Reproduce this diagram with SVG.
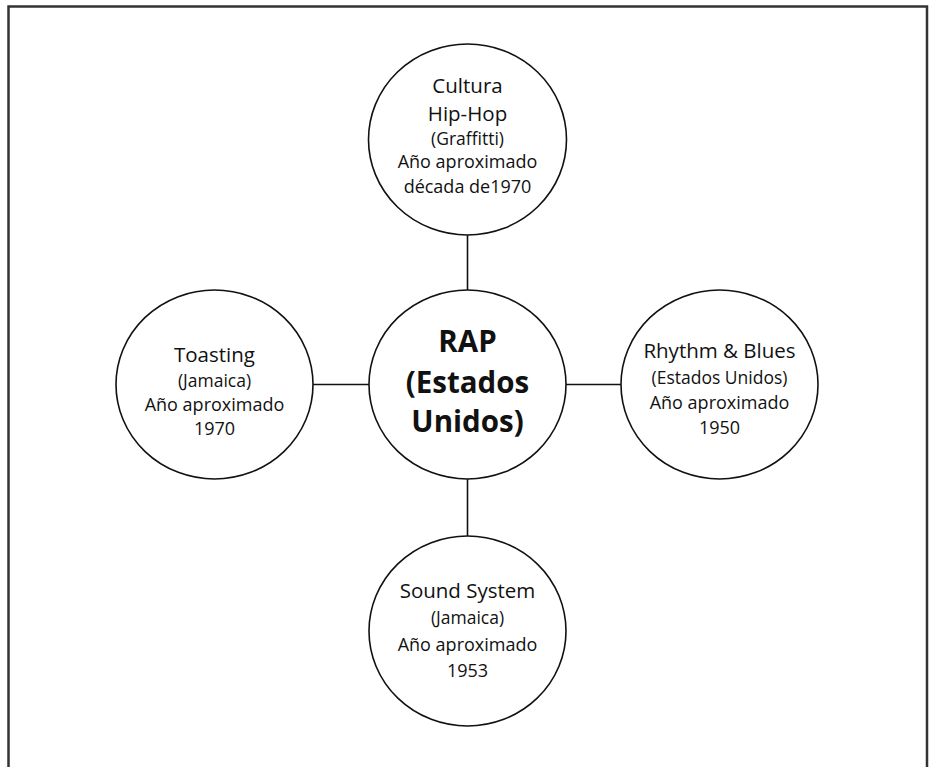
<svg xmlns="http://www.w3.org/2000/svg" width="931" height="767" viewBox="0 0 931 767">
<style>
.frame{fill:none;stroke:#333;stroke-width:2.5}
.node{fill:#fff;stroke:#111;stroke-width:1.6}
.link{stroke:#111;stroke-width:1.6;fill:none}
text{font-family:"Open Sans","Noto Sans",sans-serif;fill:#111;text-anchor:middle}
.t{font-size:20.5px}
.s{font-size:17.5px}
.y{font-size:18px}
.c{font-size:29.5px;font-weight:bold}
</style>
<rect width="931" height="767" fill="#fff"/>
<path class="frame" d="M8.5,780 V6.5 H927 V780"/>
<g id="connectors">
<line class="link" x1="467.5" y1="235" x2="467.5" y2="290"/>
<line class="link" x1="467.5" y1="479" x2="467.5" y2="536"/>
<line class="link" x1="313" y1="384.5" x2="369" y2="384.5"/>
<line class="link" x1="566" y1="384.5" x2="621" y2="384.5"/>
</g>
<g id="node-hiphop">
<ellipse class="node" cx="467.5" cy="139.5" rx="99" ry="95.5"/>
<text class="t" x="467.5" y="93">Cultura</text>
<text class="t" x="467.5" y="121">Hip-Hop</text>
<text class="s" x="467.5" y="145">(Graffitti)</text>
<text class="y" x="467.5" y="168">Año aproximado</text>
<text class="y" x="467.5" y="193">década de1970</text>
</g>
<g id="node-rap">
<ellipse class="node" cx="467.5" cy="384.5" rx="98.5" ry="94.5"/>
<text class="c" x="467.5" y="352">RAP</text>
<text class="c" x="467.5" y="393">(Estados</text>
<text class="c" x="467.5" y="432">Unidos)</text>
</g>
<g id="node-toasting">
<ellipse class="node" cx="214.5" cy="384.5" rx="98.5" ry="94.5"/>
<text class="t" x="214.5" y="362">Toasting</text>
<text class="s" x="214.5" y="387">(Jamaica)</text>
<text class="y" x="214.5" y="411">Año aproximado</text>
<text class="y" x="214.5" y="435">1970</text>
</g>
<g id="node-rnb">
<ellipse class="node" cx="719.5" cy="384.5" rx="98.5" ry="94.5"/>
<text class="t" x="719.5" y="358">Rhythm &amp; Blues</text>
<text class="s" x="719.5" y="384">(Estados Unidos)</text>
<text class="y" x="719.5" y="409">Año aproximado</text>
<text class="y" x="719.5" y="434">1950</text>
</g>
<g id="node-soundsystem">
<ellipse class="node" cx="467.5" cy="631" rx="98.5" ry="95"/>
<text class="t" x="467.5" y="598">Sound System</text>
<text class="s" x="467.5" y="624">(Jamaica)</text>
<text class="y" x="467.5" y="651">Año aproximado</text>
<text class="y" x="467.5" y="677">1953</text>
</g>
</svg>
